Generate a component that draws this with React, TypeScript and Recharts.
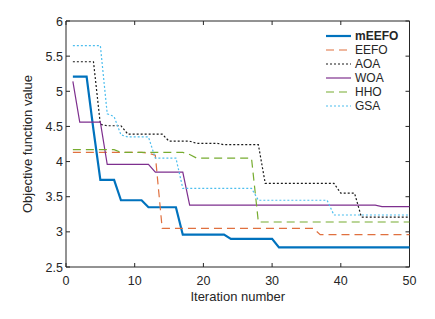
import { LineChart, Line, XAxis, YAxis, ReferenceArea } from "recharts";

// iteration index (x)
const iterations = [
  1, 2, 3, 4, 5, 6, 7, 8, 9, 10, 11, 12, 13, 14, 15, 16, 17, 18, 19, 20, 21, 22, 23, 24, 25,
  26, 27, 28, 29, 30, 31, 32, 33, 34, 35, 36, 37, 38, 39, 40, 41, 42, 43, 44, 45, 46, 47, 48, 49, 50,
];

// best objective value per iteration
const mEEFO = [
  5.21, 5.21, 5.21, 4.45, 3.74, 3.74, 3.74, 3.45, 3.45, 3.45, 3.45, 3.35, 3.35, 3.35, 3.35, 3.35,
  2.96, 2.96, 2.96, 2.96, 2.96, 2.96, 2.96, 2.9, 2.9, 2.9, 2.9, 2.9, 2.9, 2.9,
  2.78, 2.78, 2.78, 2.78, 2.78, 2.78, 2.78, 2.78, 2.78, 2.78, 2.78, 2.78, 2.78, 2.78, 2.78, 2.78, 2.78, 2.78, 2.78, 2.78,
];
const EEFO = [
  4.13, 4.13, 4.13, 4.13, 4.13, 4.13, 4.13, 4.13, 4.13, 4.13, 4.13, 4.12, 4.09,
  3.05, 3.05, 3.05, 3.05, 3.05, 3.05, 3.05, 3.05, 3.05, 3.05, 3.05, 3.05, 3.05, 3.05, 3.05, 3.05, 3.05, 3.05, 3.05, 3.05, 3.05, 3.05, 3.05,
  2.96, 2.96, 2.96, 2.96, 2.96, 2.96, 2.96, 2.96, 2.96, 2.96, 2.96, 2.96, 2.96, 2.96,
];
const AOA = [
  5.42, 5.42, 5.42, 5.42, 4.53, 4.51, 4.51, 4.51, 4.39, 4.39, 4.39, 4.39, 4.39, 4.39,
  4.29, 4.29, 4.29, 4.29, 4.26, 4.26, 4.26, 4.26, 4.24, 4.24, 4.24, 4.24, 4.24, 4.24,
  3.69, 3.69, 3.69, 3.69, 3.69, 3.69, 3.69, 3.69, 3.69, 3.69, 3.69, 3.55, 3.55, 3.55,
  3.21, 3.21, 3.21, 3.21, 3.21, 3.21, 3.21, 3.21,
];
const WOA = [
  5.14, 4.56, 4.56, 4.56, 4.56, 3.96, 3.96, 3.96, 3.96, 3.96, 3.96, 3.96, 3.85, 3.85, 3.85, 3.85, 3.85,
  3.38, 3.38, 3.38, 3.38, 3.38, 3.38, 3.38, 3.38, 3.38, 3.38, 3.38, 3.38, 3.38, 3.38, 3.38, 3.38, 3.38, 3.38,
  3.38, 3.38, 3.38, 3.38, 3.38, 3.38, 3.38, 3.38, 3.38, 3.38, 3.36, 3.36, 3.36, 3.36, 3.36,
];
const HHO = [
  4.17, 4.17, 4.17, 4.17, 4.17, 4.17, 4.17, 4.13, 4.13, 4.13, 4.13, 4.13, 4.13, 4.13, 4.13, 4.13, 4.13,
  4.1, 4.05, 4.05, 4.05, 4.05, 4.05, 4.05, 4.05, 4.05, 4.05,
  3.14, 3.14, 3.14, 3.14, 3.14, 3.14, 3.14, 3.14, 3.14, 3.14, 3.14, 3.14, 3.14, 3.14, 3.14, 3.14, 3.14, 3.14,
  3.14, 3.14, 3.14, 3.14, 3.14,
];
const GSA = [
  5.65, 5.65, 5.65, 5.65, 5.65, 4.68, 4.64, 4.38, 4.35, 4.35, 4.35, 4.35, 4.05, 4.05, 4.05, 4.05,
  3.62, 3.62, 3.62, 3.62, 3.62, 3.62, 3.62, 3.62, 3.62, 3.62, 3.62,
  3.45, 3.45, 3.45, 3.45, 3.45, 3.45, 3.45, 3.45, 3.45, 3.45, 3.45,
  3.24, 3.24, 3.24, 3.24, 3.24, 3.24, 3.24, 3.24, 3.24, 3.24, 3.24, 3.24,
];

const xTicks = [0, 10, 20, 30, 40, 50];
const yTicks = [2.5, 3, 3.5, 4, 4.5, 5, 5.5, 6];

const SERIES = [
  { name: "mEEFO", values: mEEFO, color: "#0072BD", width: 2.2, dash: undefined as string | undefined },
  { name: "EEFO", values: EEFO, color: "#E0703F", width: 1.2, dash: "8 5" },
  { name: "AOA", values: AOA, color: "#1a1a1a", width: 1.2, dash: "2 2" },
  { name: "WOA", values: WOA, color: "#7E2F8E", width: 1.2, dash: undefined },
  { name: "HHO", values: HHO, color: "#77AC30", width: 1.2, dash: "8 5" },
  { name: "GSA", values: GSA, color: "#4DBEEE", width: 1.2, dash: "2 2" },
];

const data = iterations.map((it, i) => {
  const row: Record<string, number> = { it };
  SERIES.forEach((s) => (row[s.name] = s.values[i]));
  return row;
});

const W = 435;
const H = 319;
const PLOT_TOP = 21;
const PLOT_LEFT = 66;
const PLOT_RIGHT = 409.5;
const PLOT_BOTTOM = 267;
const AXIS = "#262626";
const FONT = "'Liberation Sans', Arial, sans-serif";

function XTick({ x, payload }: any) {
  return (
    <g>
      <line x1={x} x2={x} y1={PLOT_BOTTOM} y2={PLOT_BOTTOM - 4} stroke={AXIS} />
      <line x1={x} x2={x} y1={PLOT_TOP} y2={PLOT_TOP + 4} stroke={AXIS} />
      <text x={x} y={PLOT_BOTTOM + 18} textAnchor="middle" fontSize={12.5} fill={AXIS} fontFamily={FONT}>
        {payload.value}
      </text>
    </g>
  );
}

function YTick({ y, payload }: any) {
  return (
    <g>
      <line x1={PLOT_LEFT} x2={PLOT_LEFT + 4} y1={y} y2={y} stroke={AXIS} />
      <line x1={PLOT_RIGHT} x2={PLOT_RIGHT - 4} y1={y} y2={y} stroke={AXIS} />
      <text x={PLOT_LEFT - 3} y={y + 4.5} textAnchor="end" fontSize={12.5} fill={AXIS} fontFamily={FONT}>
        {payload.value}
      </text>
    </g>
  );
}

function LegendBox() {
  return (
    <div style={{ position: "absolute", left: 326, top: 29, fontFamily: FONT, fontSize: 12, color: AXIS }}>
      {SERIES.map((s) => (
        <div key={s.name} style={{ height: 14, display: "flex", alignItems: "center" }}>
          <svg width={25} height={10} style={{ marginRight: 4 }}>
            <line x1={0} x2={25} y1={5} y2={5} stroke={s.color} strokeWidth={s.width} strokeDasharray={s.dash} />
          </svg>
          <span style={{ fontWeight: s.name === "mEEFO" ? "bold" : "normal", lineHeight: "14px" }}>{s.name}</span>
        </div>
      ))}
    </div>
  );
}

export default function App() {
  return (
    <div style={{ position: "absolute", left: 0, top: 0, width: W, height: H, background: "#fff" }}>
      <LineChart width={W} height={H} data={data} margin={{ top: PLOT_TOP, right: W - PLOT_RIGHT, bottom: 0, left: 0 }}>
        <XAxis
          dataKey="it"
          type="number"
          domain={[0, 50]}
          ticks={xTicks}
          height={H - PLOT_BOTTOM}
          axisLine={false}
          tickLine={false}
          tick={<XTick />}
          label={{ value: "Iteration number", position: "insideBottom", offset: 18, fill: AXIS, fontSize: 13, fontFamily: FONT }}
        />
        <YAxis
          type="number"
          domain={[2.5, 6]}
          ticks={yTicks}
          width={PLOT_LEFT}
          axisLine={false}
          tickLine={false}
          tick={<YTick />}
          label={{
            value: "Objective function value",
            angle: -90,
            position: "insideLeft",
            offset: 27,
            fill: AXIS,
            fontSize: 13,
            fontFamily: FONT,
            style: { textAnchor: "middle" },
          }}
        />
        <ReferenceArea x1={0} x2={50} y1={2.5} y2={6} fill="none" stroke={AXIS} strokeWidth={1} />
        {SERIES.map((s) => (
          <Line
            key={s.name}
            dataKey={s.name}
            type="linear"
            stroke={s.color}
            strokeWidth={s.width}
            strokeDasharray={s.dash}
            dot={false}
            isAnimationActive={false}
          />
        ))}
      </LineChart>
      <LegendBox />
    </div>
  );
}
